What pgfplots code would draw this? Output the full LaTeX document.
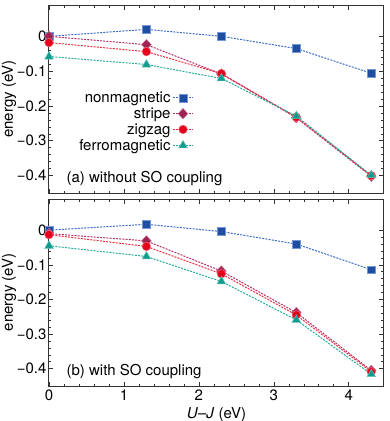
\documentclass[border=0pt]{standalone}
\usepackage{pgfplots}
\pgfplotsset{compat=1.18}
\usepackage{fontspec}
\setmainfont{TeX Gyre Heros}
\definecolor{nmfill}{HTML}{1F4EA0}
\definecolor{nmline}{HTML}{3B6CC8}
\definecolor{stfill}{HTML}{9E2352}
\definecolor{stline}{HTML}{B3306A}
\definecolor{zzfill}{HTML}{E5001C}
\definecolor{zzline}{HTML}{EA3040}
\definecolor{fmfill}{HTML}{0F9C8E}
\definecolor{fmline}{HTML}{25AC9C}
\newcommand{\bigf}{\fontsize{15}{17}\selectfont}
\pgfplotsset{
  panel/.style={
    scale only axis, width=335pt, height=188pt,
    xmin=0, xmax=4.47, ymin=-0.45, ymax=0.09,
    xtick={0,1,2,3,4},
    ytick={-0.4,-0.3,-0.2,-0.1,0},
    yticklabels={−0.4,−0.3,−0.2,−0.1,0},
    minor x tick num=4, minor y tick num=4,
    tick align=inside, xtick pos=both, ytick pos=both,
    major tick length=4.5pt, minor tick length=2.5pt,
    axis line style={line width=1pt, black!80},
    every tick/.style={black!80, line width=0.6pt},
    /pgf/number format/assume math mode=true,
    tick label style={font=\bigf},
    yticklabel style={xshift=1pt},
    label style={font=\bigf},
    ylabel={energy (eV)},
    ylabel style={at={(axis description cs:-0.119,0.5)}, anchor=center},
    clip=false,
  },
  nm/.style={nmline, line width=1pt, dash pattern=on 2pt off 1.2pt, mark=square*, mark size=3.9pt, mark options={solid, fill=nmfill, draw=nmline!70, line width=0.5pt}},
  st/.style={stline, line width=1pt, dash pattern=on 2pt off 1.2pt, mark=diamond*, mark size=5.2pt, mark options={solid, fill=stfill, draw=stline!70, line width=0.5pt, xscale=1.25}},
  zz/.style={zzline, line width=1pt, dash pattern=on 2pt off 1.2pt, mark=*, mark size=4.3pt, mark options={solid, fill=zzfill, draw=zzline!70, line width=0.5pt}},
  fm/.style={fmline, line width=1pt, dash pattern=on 2pt off 1.2pt, mark=triangle*, mark size=5pt, mark options={solid, fill=fmfill, draw=fmline!70, line width=0.5pt}},
}
\begin{document}
\begin{tikzpicture}
\useasboundingbox (-49pt,-228pt) rectangle (341pt,193pt);
\begin{axis}[panel, name=top, at={(0,0)}, anchor=south west,
  xticklabels={},
  legend style={at={(rel axis cs:0.432,0.55)}, anchor=north east, draw=none, fill=none,
    legend cell align=right, font=\bigf, row sep=-0.3pt, inner sep=0pt},
  legend plot pos=right,
  legend image code/.code={\draw[mark repeat=2,mark phase=2] plot coordinates {(0pt,0pt) (10pt,0pt) (20pt,0pt)};},
]
\addplot[nm] coordinates {(0,0.000) (1.3,0.020) (2.3,0.000) (3.3,-0.035) (4.3,-0.106)};
\addlegendentry{nonmagnetic}
\addplot[st] coordinates {(0,0.000) (1.3,-0.024) (2.3,-0.108) (3.3,-0.234) (4.3,-0.402)};
\addlegendentry{stripe}
\addplot[zz] coordinates {(0,-0.018) (1.3,-0.044) (2.3,-0.107) (3.3,-0.232) (4.3,-0.400)};
\addlegendentry{zigzag}
\addplot[fm] coordinates {(0,-0.058) (1.3,-0.081) (2.3,-0.121) (3.3,-0.229) (4.3,-0.399)};
\addlegendentry{ferromagnetic}
\node[anchor=base west, font=\bigf] at (rel axis cs:0.042,0.055) {(a) without SO coupling};
\end{axis}
\begin{axis}[panel, name=bot, at={(0,-193pt)}, anchor=south west, height=187pt,
  xlabel={\textit{U}–\textit{J} (eV)},
  xlabel style={at={(axis description cs:0.5,-0.155)}, anchor=center},
]
\addplot[nm] coordinates {(0,0.000) (1.3,0.017) (2.3,-0.004) (3.3,-0.040) (4.3,-0.114)};
\addplot[st] coordinates {(0,-0.010) (1.3,-0.031) (2.3,-0.118) (3.3,-0.238) (4.3,-0.405)};
\addplot[zz] coordinates {(0,-0.013) (1.3,-0.047) (2.3,-0.126) (3.3,-0.245) (4.3,-0.409)};
\addplot[fm] coordinates {(0,-0.045) (1.3,-0.076) (2.3,-0.148) (3.3,-0.259) (4.3,-0.416)};
\node[anchor=base west, font=\bigf] at (rel axis cs:0.042,0.055) {(b) with SO coupling};
\end{axis}
\end{tikzpicture}
\end{document}
